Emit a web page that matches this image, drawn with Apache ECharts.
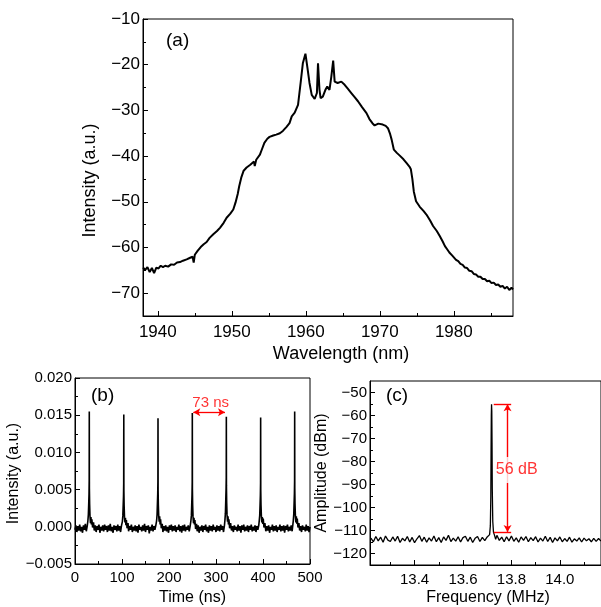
<!DOCTYPE html>
<html><head><meta charset="utf-8">
<script src="https://cdn.jsdelivr.net/npm/echarts@6/dist/echarts.min.js"></script>
<style>html,body{margin:0;padding:0;background:#fff}#c{width:601px;height:607px}</style>
</head><body><div id="c"></div>
<script>
// ---------- (a) optical spectrum: [wavelength nm, intensity a.u.]
const spectrum = [[1938.0,-64.4],[1938.3,-64.9],[1938.6,-64.3],[1938.9,-65.4],[1939.2,-64.5],[1939.5,-65.6],[1939.8,-64.4],[1940.1,-64.6],[1940.4,-64.0],[1940.7,-64.3],[1941.0,-64.0],[1941.4,-64.2],[1941.8,-63.7],[1942.2,-63.8],[1942.6,-63.3],[1943.0,-63.2],[1943.4,-62.9],[1943.9,-62.6],[1944.3,-62.3],[1944.7,-62.0],[1944.85,-63.3],[1945.0,-61.6],[1945.4,-60.7],[1945.8,-59.9],[1946.2,-59.3],[1946.6,-58.8],[1947.0,-57.9],[1947.5,-57.1],[1948.0,-56.4],[1948.4,-55.7],[1948.9,-54.6],[1949.3,-53.5],[1949.8,-52.6],[1950.2,-51.7],[1950.5,-50.2],[1950.8,-48.3],[1951.0,-46.6],[1951.3,-44.6],[1951.6,-43.2],[1952.0,-42.5],[1952.5,-41.9],[1953.0,-41.2],[1953.1,-42.2],[1953.3,-40.8],[1953.8,-39.7],[1954.1,-38.4],[1954.4,-37.1],[1954.8,-36.2],[1955.1,-35.8],[1955.6,-35.5],[1956.0,-35.3],[1956.5,-35.0],[1956.9,-34.5],[1957.4,-33.6],[1957.8,-32.8],[1958.1,-31.3],[1958.5,-30.5],[1958.95,-28.8],[1959.3,-24.0],[1959.6,-19.7],[1959.95,-17.6],[1960.2,-20.4],[1960.5,-24.0],[1960.8,-26.6],[1961.2,-27.5],[1961.5,-26.2],[1961.65,-19.7],[1961.85,-25.5],[1962.0,-27.3],[1962.3,-27.0],[1962.65,-25.5],[1962.9,-24.8],[1963.2,-25.5],[1963.45,-22.6],[1963.7,-19.1],[1963.9,-23.7],[1964.3,-24.0],[1964.8,-23.7],[1965.25,-24.4],[1965.7,-25.3],[1966.15,-26.2],[1966.6,-27.1],[1967.05,-28.0],[1967.6,-29.3],[1968.2,-30.6],[1968.6,-31.9],[1969.0,-32.8],[1969.3,-33.3],[1969.8,-32.9],[1970.4,-33.1],[1970.8,-33.4],[1971.1,-33.9],[1971.4,-35.2],[1971.6,-36.4],[1971.9,-38.6],[1972.3,-39.3],[1972.7,-39.9],[1973.2,-40.7],[1973.6,-41.5],[1974.0,-42.3],[1974.2,-42.9],[1974.4,-45.0],[1974.6,-47.8],[1974.9,-49.9],[1975.4,-51.1],[1975.9,-52.0],[1976.3,-52.8],[1976.8,-54.1],[1977.2,-55.3],[1977.7,-56.4],[1978.1,-57.5],[1978.5,-58.7],[1978.8,-59.7],[1979.1,-60.4],[1979.4,-61.1],[1979.8,-61.8],[1980.3,-62.7],[1980.6,-63.0],[1980.9,-63.6],[1981.2,-63.8],[1981.5,-64.4],[1981.8,-64.5],[1982.1,-65.1],[1982.4,-65.2],[1982.7,-65.8],[1983.0,-65.9],[1983.3,-66.4],[1983.6,-66.4],[1983.9,-66.9],[1984.2,-66.9],[1984.5,-67.4],[1984.8,-67.3],[1985.1,-67.8],[1985.4,-67.7],[1985.7,-68.2],[1986.0,-68.1],[1986.3,-68.6],[1986.6,-68.4],[1986.9,-69.0],[1987.2,-68.6],[1987.5,-69.3],[1987.8,-68.8],[1988.0,-69.2]];
const wlTicks = [1940,1950,1960,1970,1980];
const wlMinorTicks = [1945,1955,1965,1975,1985];
const specTicks = [-70,-60,-50,-40,-30,-20,-10];
const specMinorTicks = [-65,-55,-45,-35,-25,-15];

// ---------- (b) pulse train: [time ns, intensity a.u.]
const pulseTrace = [[0,-0.0004],[2,0.0002],[4,-0.0007],[6,0.0001],[8,-0.0005],[10,0.0003],[12,-0.0006],[14,0.0000],[16,-0.0008],[18,0.0002],[20,-0.0004],[22,0.0004],[24,-0.0006],
[26,0.0001],[27.4,0.0008],[28.4,0.0016],[29.2,0.0031],[29.8,0.0043],[30.2,0.0062],[30.4,0.0155],[30.6,0.0052],[31.1,0.0031],[31.9,0.0014],[32.9,0.0005],[33.9,0.0013],[34.9,0.0003],[35.9,0.0010],[37.4,-0.0001],[39.4,0.0006],
[41,-0.0005],[43,0.0002],[45,-0.0007],[47,0.0001],[49,-0.0004],[51,0.0003],[53,-0.0008],[55,0.0000],[57,-0.0005],[59,0.0002],[61,-0.0006],[63,0.0003],[65,-0.0004],[67,0.0001],[69,-0.0007],[71,0.0002],[73,-0.0005],[75,0.0004],[77,-0.0006],[79,0.0000],[81,-0.0008],[83,0.0002],[85,-0.0004],[87,0.0001],[89,-0.0006],[91,0.0003],[93,-0.0005],[95,0.0001],[97,-0.0007],[99,0.0002],
[100.8,0.0007],[101.8,0.0015],[102.6,0.0030],[103.2,0.0041],[103.6,0.0058],[103.8,0.0151],[104.0,0.0049],[104.5,0.0029],[105.3,0.0013],[106.3,0.0006],[107.3,0.0012],[108.3,0.0002],[109.3,0.0009],[110.8,-0.0002],[112.8,0.0005],
[114,-0.0006],[116,0.0001],[118,-0.0004],[120,0.0003],[122,-0.0007],[124,0.0000],[126,-0.0005],[128,0.0002],[130,-0.0006],[132,0.0001],[134,-0.0008],[136,0.0003],[138,-0.0004],[140,0.0000],[142,-0.0006],[144,0.0002],[146,-0.0005],[148,0.0004],[150,-0.0007],[152,0.0001],[154,-0.0004],[156,0.0002],[158,-0.0009],[160,0.0000],[162,-0.0005],[164,0.0003],[166,-0.0006],[168,0.0001],[170,-0.0004],[172,0.0002],
[173.6,0.0008],[174.6,0.0016],[175.4,0.0032],[176.0,0.0044],[176.4,0.0061],[176.6,0.0146],[176.8,0.0050],[177.3,0.0030],[178.1,0.0015],[179.1,0.0007],[180.1,0.0014],[181.1,0.0003],[182.1,0.0010],[183.6,-0.0002],[185.6,0.0004],
[187,-0.0007],[189,0.0001],[191,-0.0005],[193,0.0002],[195,-0.0006],[197,0.0000],[199,-0.0008],[201,0.0002],[203,-0.0004],[205,0.0003],[207,-0.0006],[209,0.0001],[211,-0.0005],[213,0.0002],[215,-0.0007],[217,0.0000],[219,-0.0004],[221,0.0003],[223,-0.0006],[225,0.0001],[227,-0.0008],[229,0.0002],[231,-0.0005],[233,0.0003],[235,-0.0006],[237,0.0000],[239,-0.0004],[241,0.0002],[243,-0.0006],[245,0.0001],
[246.6,0.0008],[247.6,0.0015],[248.4,0.0031],[249.0,0.0043],[249.4,0.0060],[249.6,0.0153],[249.8,0.0051],[250.3,0.0030],[251.1,0.0014],[252.1,0.0005],[253.1,0.0012],[254.1,0.0003],[255.1,0.0009],[256.6,-0.0003],[258.6,0.0004],
[260,-0.0006],[262,0.0002],[264,-0.0008],[266,0.0000],[268,-0.0005],[270,0.0002],[272,-0.0007],[274,0.0001],[276,-0.0004],[278,0.0003],[280,-0.0006],[282,0.0000],[284,-0.0008],[286,0.0002],[288,-0.0005],[290,0.0001],[292,-0.0006],[294,0.0003],[296,-0.0004],[298,0.0000],[300,-0.0007],[302,0.0002],[304,-0.0005],[306,0.0001],[308,-0.0006],[310,0.0003],[312,-0.0004],[314,0.0001],[316,-0.0007],[318,0.0002],
[319.0,0.0009],[320.0,0.0018],[320.8,0.0036],[321.4,0.0050],[321.8,0.0066],[322.0,0.0148],[322.2,0.0055],[322.7,0.0033],[323.5,0.0016],[324.5,0.0007],[325.5,0.0014],[326.5,0.0003],[327.5,0.0010],[329.0,-0.0002],[331.0,0.0005],
[333,-0.0005],[335,0.0001],[337,-0.0007],[339,0.0002],[341,-0.0004],[343,0.0000],[345,-0.0006],[347,0.0003],[349,-0.0005],[351,0.0001],[353,-0.0008],[355,0.0002],[357,-0.0004],[359,0.0003],[361,-0.0006],[363,0.0000],[365,-0.0005],[367,0.0002],[369,-0.0007],[371,0.0001],[373,-0.0004],[375,0.0003],[377,-0.0006],[379,0.0000],[381,-0.0005],[383,0.0002],[385,-0.0007],[387,0.0001],[389,-0.0004],[391,0.0002],
[392.0,0.0008],[393.0,0.0015],[393.8,0.0030],[394.4,0.0042],[394.8,0.0059],[395.0,0.0147],[395.2,0.0050],[395.7,0.0030],[396.5,0.0015],[397.5,0.0006],[398.5,0.0013],[399.5,0.0004],[400.5,0.0011],[402.0,-0.0001],[404.0,0.0005],
[406,-0.0006],[408,0.0001],[410,-0.0005],[412,0.0002],[414,-0.0008],[416,0.0000],[418,-0.0004],[420,0.0003],[422,-0.0006],[424,0.0001],[426,-0.0005],[428,0.0002],[430,-0.0007],[432,0.0000],[434,-0.0004],[436,0.0003],[438,-0.0006],[440,0.0001],[442,-0.0005],[444,0.0002],[446,-0.0008],[448,0.0001],[450,-0.0004],[452,0.0003],[454,-0.0006],[456,0.0000],[458,-0.0005],[460,0.0002],[462,-0.0006],
[464.4,0.0008],[465.4,0.0016],[466.2,0.0032],[466.8,0.0044],[467.2,0.0061],[467.4,0.0155],[467.6,0.0052],[468.1,0.0031],[468.9,0.0015],[469.9,0.0006],[470.9,0.0014],[471.9,0.0004],[472.9,0.0011],[474.4,-0.0001],[476.4,0.0005],
[478,-0.0005],[480,0.0001],[482,-0.0007],[484,0.0002],[486,-0.0004],[488,0.0000],[490,-0.0006],[492,0.0003],[494,-0.0005],[496,0.0001],[498,-0.0007],[500,0.0000]];
const periodArrow = [[251.7,0.0154],[319.1,0.0154]];
const periodLabel = [288.7,0.0166,'73 ns'];

// ---------- (c) RF spectrum: [frequency MHz, amplitude dBm]
const rfTrace = [[13.22,-113.3],[13.23,-114.9],[13.24,-112.6],[13.25,-114.5],[13.26,-112.9],[13.27,-115.1],[13.28,-112.4],[13.29,-114.2],[13.30,-114.8],[13.31,-112.8],[13.32,-114.6],[13.33,-112.5],[13.34,-115.2],[13.35,-113.4],[13.36,-114.5],[13.37,-112.6],[13.38,-115.0],[13.39,-113.0],[13.40,-115.3],[13.41,-113.6],[13.42,-112.2],[13.43,-114.7],[13.44,-112.9],[13.45,-115.1],[13.46,-113.2],[13.47,-114.6],[13.48,-112.4],[13.49,-114.9],[13.50,-113.1],[13.51,-115.2],[13.52,-112.8],[13.53,-114.3],[13.54,-112.1],[13.55,-114.8],[13.56,-113.3],[13.57,-114.6],[13.58,-112.7],[13.59,-115.0],[13.60,-113.1],[13.61,-112.5],[13.62,-114.7],[13.63,-112.9],[13.64,-115.2],[13.65,-113.4],[13.66,-112.6],[13.67,-114.8],[13.68,-113.0],[13.69,-114.4],[13.70,-112.8],[13.705,-112.5],[13.71,-111.8],[13.713,-108],[13.715,-95],[13.716,-75],[13.717,-60],[13.718,-55.1],[13.719,-58],[13.720,-72],[13.721,-92],[13.723,-106],[13.726,-110.8],[13.73,-112.0],[13.735,-113.8],[13.74,-112.1],[13.75,-114.3],[13.76,-112.9],[13.77,-114.9],[13.78,-112.7],[13.79,-114.5],[13.80,-112.4],[13.81,-114.7],[13.82,-113.2],[13.83,-115.1],[13.84,-112.8],[13.85,-114.3],[13.86,-112.6],[13.87,-114.9],[13.88,-113.1],[13.89,-114.4],[13.90,-112.7],[13.91,-115.0],[13.92,-113.3],[13.93,-114.6],[13.94,-112.5],[13.95,-114.8],[13.96,-113.0],[13.97,-115.2],[13.98,-113.2],[13.99,-114.5],[14.00,-112.8],[14.01,-114.9],[14.02,-113.5],[14.03,-114.7],[14.04,-112.9],[14.05,-115.1],[14.06,-113.6],[14.07,-114.6],[14.08,-113.2],[14.09,-115.0],[14.10,-113.3],[14.11,-114.5],[14.12,-113.6],[14.13,-114.9],[14.14,-113.4],[14.15,-114.7],[14.16,-113.5],[14.17,-114.6]];
const freqTicks = [13.4,13.6,13.8,14.0];
const freqMinorTicks = [13.3,13.5,13.7,13.9,14.1];
const ampTicks = [-120,-110,-100,-90,-80,-70,-60,-50];
const ampMinorTicks = [-115,-105,-95,-85,-75,-65,-55];
const snrTop = -55.1, snrBottom = -110.6;
const snrLineX = [13.727, 13.799];
const snrArrowX = 13.784;
const snrLabel = [13.822, -83.7, '56 dB'];

// ---------- chart
const FONT = 'Liberation Sans';
const RED = '#ff0000';
const minus = v => (v < -1e-9 ? '\u2212' : '');
const fmtInt = v => minus(v) + String(Math.abs(v));
const fmt3 = v => minus(v) + Math.abs(v).toFixed(3);
const fmt1 = v => Math.abs(v).toFixed(1);
const TICK = { color: '#000', width: 1 };

function mainAxis(o) {
  return Object.assign({
    type: 'value',
    axisLine: { show: true, onZero: false, lineStyle: { color: '#000', width: 1 } },
    axisTick: { show: true, inside: true, length: 5, lineStyle: TICK },
    splitLine: { show: false },
    axisLabel: { color: '#000', fontFamily: FONT },
    nameTextStyle: { color: '#000', fontFamily: FONT },
    nameLocation: 'middle'
  }, o);
}
function minorAxis(o, ticks) {
  return Object.assign({
    type: 'value',
    axisLine: { show: false },
    axisTick: { show: true, inside: true, length: 3, customValues: ticks, lineStyle: TICK },
    axisLabel: { show: false, customValues: ticks },
    splitLine: { show: false }
  }, o);
}

const chart = echarts.init(document.getElementById('c'), null, { renderer: 'canvas' });
chart.setOption({
  animation: false,
  backgroundColor: '#fff',
  textStyle: { fontFamily: FONT },
  grid: [
    { left: 143, top: 19, width: 370, height: 297, show: true, borderColor: '#000', borderWidth: 1, containLabel: false },
    { left: 75, top: 378, width: 235, height: 191, show: true, borderColor: '#000', borderWidth: 1, containLabel: false },
    { left: 370, top: 381, width: 233, height: 188, show: true, borderColor: '#000', borderWidth: 1, containLabel: false }
  ],
  xAxis: [
    mainAxis({ gridIndex: 0, position: 'bottom', min: 1938, max: 1988,
      axisTick: { show: true, inside: true, length: 5, customValues: wlTicks, lineStyle: TICK },
      axisLabel: { color: '#000', fontFamily: FONT, fontSize: 17, margin: 8, customValues: wlTicks, formatter: fmtInt },
      name: 'Wavelength (nm)', nameGap: 29,
      nameTextStyle: { color: '#000', fontFamily: FONT, fontSize: 18, padding: [0, 0, 0, 26] } }),
    minorAxis({ gridIndex: 0, position: 'bottom', min: 1938, max: 1988 }, wlMinorTicks),
    mainAxis({ gridIndex: 1, position: 'bottom', min: 0, max: 500, interval: 100,
      minorTick: { show: true, splitNumber: 2, length: 3, lineStyle: TICK },
      axisLabel: { color: '#000', fontFamily: FONT, fontSize: 15, margin: 6, formatter: fmtInt },
      name: 'Time (ns)', nameGap: 26,
      nameTextStyle: { color: '#000', fontFamily: FONT, fontSize: 16 } }),
    mainAxis({ gridIndex: 2, position: 'bottom', min: 13.216, max: 14.17,
      axisTick: { show: true, inside: true, length: 5, customValues: freqTicks, lineStyle: TICK },
      axisLabel: { color: '#000', fontFamily: FONT, fontSize: 15, margin: 7, customValues: freqTicks, formatter: fmt1 },
      name: 'Frequency (MHz)', nameGap: 25,
      nameTextStyle: { color: '#000', fontFamily: FONT, fontSize: 16, padding: [0, 0, 0, 5] } }),
    minorAxis({ gridIndex: 2, position: 'bottom', min: 13.216, max: 14.17 }, freqMinorTicks)
  ],
  yAxis: [
    mainAxis({ gridIndex: 0, position: 'left', min: -75, max: -10,
      axisTick: { show: true, inside: true, length: 5, customValues: specTicks, lineStyle: TICK },
      axisLabel: { color: '#000', fontFamily: FONT, fontSize: 17, margin: 3, customValues: specTicks, formatter: fmtInt },
      name: 'Intensity (a.u.)', nameGap: 44,
      nameTextStyle: { color: '#000', fontFamily: FONT, fontSize: 18, padding: [0, 26, 0, 0] } }),
    minorAxis({ gridIndex: 0, position: 'left', min: -75, max: -10 }, specMinorTicks),
    mainAxis({ gridIndex: 1, position: 'left', min: -0.005, max: 0.020, interval: 0.005,
      minorTick: { show: true, splitNumber: 2, length: 3, lineStyle: TICK },
      axisLabel: { color: '#000', fontFamily: FONT, fontSize: 15, margin: 3, formatter: fmt3 },
      name: 'Intensity (a.u.)', nameGap: 45,
      nameTextStyle: { color: '#000', fontFamily: FONT, fontSize: 16, padding: [0, 5, 0, 0] } }),
    mainAxis({ gridIndex: 2, position: 'left', min: -125, max: -45,
      axisTick: { show: true, inside: true, length: 5, customValues: ampTicks, lineStyle: TICK },
      axisLabel: { color: '#000', fontFamily: FONT, fontSize: 15, margin: 3, customValues: ampTicks, formatter: fmtInt },
      name: 'Amplitude (dBm)', nameGap: 35,
      nameTextStyle: { color: '#000', fontFamily: FONT, fontSize: 16 } }),
    minorAxis({ gridIndex: 2, position: 'left', min: -125, max: -45 }, ampMinorTicks)
  ],
  series: [
    { type: 'line', xAxisIndex: 0, yAxisIndex: 0, data: spectrum, showSymbol: false, symbol: 'none',
      lineStyle: { color: '#000', width: 2 }, clip: true },
    { type: 'line', xAxisIndex: 2, yAxisIndex: 2, data: pulseTrace, showSymbol: false, symbol: 'none',
      lineStyle: { color: '#000', width: 1.6 }, clip: true,
      markLine: { silent: true, animation: false, symbol: ['arrow', 'arrow'], symbolSize: [6, 7],
        lineStyle: { color: RED, width: 1.3, type: 'solid' }, label: { show: false },
        data: [[{ coord: periodArrow[0] }, { coord: periodArrow[1] }]] } },
    { type: 'scatter', xAxisIndex: 2, yAxisIndex: 2, data: [periodLabel], symbolSize: 0, z: 5,
      label: { show: true, position: 'inside', formatter: p => p.value[2], color: RED, fontSize: 15, fontFamily: FONT } },
    { type: 'line', xAxisIndex: 3, yAxisIndex: 3, data: rfTrace, showSymbol: false, symbol: 'none',
      lineStyle: { color: '#000', width: 1.3 }, clip: true,
      markLine: { silent: true, animation: false, symbol: ['none', 'none'],
        lineStyle: { color: RED, width: 1.4, type: 'solid' }, label: { show: false },
        data: [
          [{ coord: [snrLineX[0], snrTop] }, { coord: [snrLineX[1], snrTop] }],
          [{ coord: [snrLineX[0], snrBottom] }, { coord: [snrLineX[1], snrBottom] }],
          [{ coord: [snrArrowX, snrTop], symbol: 'arrow', symbolSize: [6, 7] }, { coord: [snrArrowX, snrBottom], symbol: 'arrow', symbolSize: [6, 7] }]
        ] } },
    { type: 'scatter', xAxisIndex: 3, yAxisIndex: 3, data: [snrLabel], symbolSize: 0, z: 10,
      label: { show: true, position: 'inside', formatter: p => p.value[2], color: RED, fontSize: 16, fontFamily: FONT,
        backgroundColor: '#fff', padding: [5, 1] } }
  ],
  graphic: [
    { type: 'text', left: 166, top: 31, style: { text: '(a)', font: '19px "Liberation Sans"', fill: '#000' } },
    { type: 'text', left: 91, top: 386, style: { text: '(b)', font: '19px "Liberation Sans"', fill: '#000' } },
    { type: 'text', left: 386, top: 386, style: { text: '(c)', font: '19px "Liberation Sans"', fill: '#000' } }
  ]
});
</script>
</body></html>
